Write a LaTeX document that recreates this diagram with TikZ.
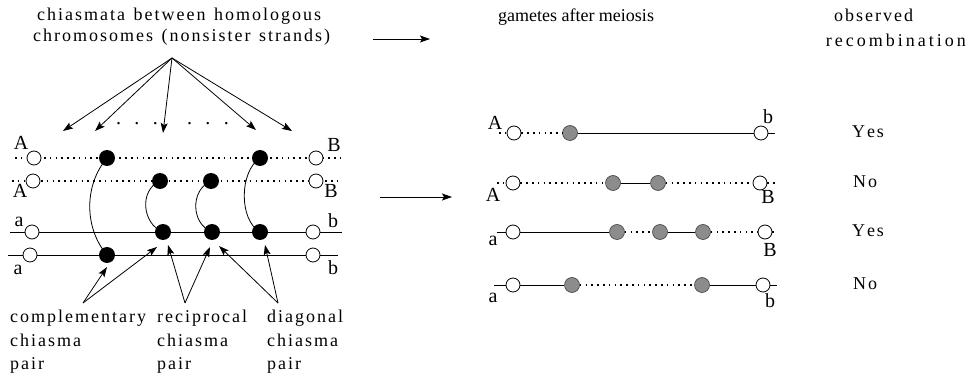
\documentclass[tikz,border=0pt]{standalone}
\usepackage{fontspec}
\setmainfont{Liberation Serif}
\usetikzlibrary{arrows.meta}
% letter-spaced text: a small kern after every character
\ExplSyntaxOn
\dim_new:N \l_spc_kern_dim
\NewDocumentCommand \spaced { O{2pt} m }
  {
    \dim_set:Nn \l_spc_kern_dim {#1}
    \str_map_inline:nn {#2} { ##1 \kern \l_spc_kern_dim }
    \kern -\l_spc_kern_dim
  }
\ExplSyntaxOff
\begin{document}
\begin{tikzpicture}[x=1pt,y=-1pt,
  open/.style={circle,draw,fill=white,minimum size=14pt,inner sep=0pt,line width=0.8pt},
  chi/.style={circle,fill=black,minimum size=16pt,inner sep=0pt},
  gam/.style={circle,draw=black!75,fill=black!45,minimum size=15pt,inner sep=0pt,line width=0.6pt},
  dotl/.style={line width=1.2pt,dash pattern=on 1.6pt off 4.2pt},
  soll/.style={line width=0.9pt},
  arr/.style={-{Stealth[length=10pt,width=7pt,inset=2pt]},line width=0.8pt},
  lbl/.style={font=\fontsize{20}{22}\selectfont,inner sep=0pt},
  txt/.style={font=\fontsize{18}{22}\selectfont,inner sep=0pt,anchor=base west},
  ctxt/.style={font=\fontsize{18}{22}\selectfont,inner sep=0pt,anchor=base},
]
\useasboundingbox (0,0) rectangle (967,382);

% ---------- headings ----------
\node[txt] (head1) at (37,21) {\spaced{chiasmata between homologous}};
\node[txt] (head2) at (33,42) {\spaced{chromosomes (nonsister strands)}};
\node[ctxt] (gam) at (576,22) {gametes after meiosis};
\node[txt] (obs) at (834,22) {\spaced{observed}};
\node[txt,anchor=base east] (rec) at (966,47) {\spaced[3pt]{recombination}};

% ---------- chromosome ends (left) ----------
\coordinate (l1s) at (15,158);  \coordinate (l1e) at (343,158);
\coordinate (l2s) at (12,181);  \coordinate (l2e) at (340,181);
\coordinate (l3s) at (10,232);  \coordinate (l3e) at (342,232);
\coordinate (l4s) at (8,255);   \coordinate (l4e) at (338,255);

% strands
\draw[dotl] (l1s) -- (l1e);
\draw[dotl] (l2s) -- (l2e);
\draw[soll] (l3s) -- (l3e);
\draw[soll] (l4s) -- (l4e);

% open markers
\node[open] (o1l) at (34,158) {};  \node[open] (o1r) at (316,158) {};
\node[open] (o2l) at (33,181) {};  \node[open] (o2r) at (316,181) {};
\node[open] (o3l) at (32,232) {};  \node[open] (o3r) at (313,232) {};
\node[open] (o4l) at (30,255) {};  \node[open] (o4r) at (313,255) {};

% chiasma points
\node[chi] (c1a) at (107,158) {};
\node[chi] (c1b) at (260,158) {};
\node[chi] (c2a) at (160,181) {};
\node[chi] (c2b) at (211,181) {};
\node[chi] (c3a) at (163,232) {};
\node[chi] (c3b) at (212,232) {};
\node[chi] (c3c) at (260,232) {};
\node[chi] (c4a) at (107,255) {};

% chiasma links
\draw[line width=0.8pt] (c1a.center) .. controls (84,185) and (84,228) .. (c4a.center);
\draw[line width=0.8pt] (c2a.center) .. controls (139,190) and (142,224) .. (c3a.center);
\draw[line width=0.8pt] (c2b.center) .. controls (190,190) and (191,224) .. (c3b.center);
\draw[line width=0.8pt] (c1b.center) .. controls (239,172) and (239,220) .. (c3c.center);

% allele labels (left)
\node[lbl] (A1) at (21,143) {A};
\node[lbl] (A2) at (20,191) {A};
\node[lbl] (B1) at (334,145) {B};
\node[lbl] (B2) at (331,191) {B};
\node[lbl] (a3) at (19,222) {a};
\node[lbl] (a4) at (18,270) {a};
\node[lbl] (b3) at (333,221) {b};
\node[lbl] (b4) at (333,268) {b};

% fan of arrows from the heading
\coordinate (apex) at (172,58);
\coordinate (t1) at (63,131);
\coordinate (t2) at (95,131);
\coordinate (t3) at (163,133);
\coordinate (t4) at (256,130);
\coordinate (t5) at (292,131);
\foreach \t in {t1,t2,t3,t4,t5} \draw[arr] (apex) -- (\t);
\node[lbl] (dots1) at (137,124) {.\,\,\,\,.\,\,\,\,.};
\node[lbl] (dots2) at (208,124) {.\,\,\,\,.\,\,\,\,.};

% pair labels and their arrows
\node[txt] (comp1) at (10,323) {\spaced{complementary}};
\node[txt] (comp2) at (10,346) {\spaced{chiasma}};
\node[txt] (comp3) at (10,369) {\spaced{pair}};
\node[txt] (reci1) at (157,323) {\spaced{reciprocal}};
\node[txt] (reci2) at (157,346) {\spaced{chiasma}};
\node[txt] (reci3) at (157,369) {\spaced{pair}};
\node[txt] (diag1) at (267,323) {\spaced{diagonal}};
\node[txt] (diag2) at (267,346) {\spaced{chiasma}};
\node[txt] (diag3) at (267,369) {\spaced{pair}};

\coordinate (p1) at (83,303);
\coordinate (p2) at (185,303);
\coordinate (p3) at (278,303);
\coordinate (q1) at (107,267);
\coordinate (q2) at (157,247);
\coordinate (q3) at (168,245);
\coordinate (q4) at (210,247);
\coordinate (q5) at (219,246);
\coordinate (q6) at (265,245);
\draw[arr] (p1) -- (q1); \draw[arr] (p1) -- (q2);
\draw[arr] (p2) -- (q3); \draw[arr] (p2) -- (q4);
\draw[arr] (p3) -- (q5); \draw[arr] (p3) -- (q6);

% process arrows
\coordinate (h1s) at (373,39); \coordinate (h1e) at (430,39);
\coordinate (h2s) at (380,197); \coordinate (h2e) at (452,197);
\draw[arr] (h1s) -- (h1e);
\draw[arr] (h2s) -- (h2e);

% ---------- gametes ----------
% gamete 1
\node[open] (g1l) at (514,133) {};
\node[gam]  (g1x) at (570,133) {};
\node[open] (g1r) at (761,133) {};
\coordinate (g1s) at (499,133); \coordinate (g1e) at (775,133);
\draw[dotl] (g1s) -- (g1l); \draw[dotl] (g1l) -- (g1x);
\draw[soll] (g1x) -- (g1r); \draw[soll] (g1r) -- (g1e);
\node[lbl] (gA1) at (495,123) {A};
\node[lbl] (gb1) at (768,117) {b};

% gamete 2
\node[open] (g2l) at (513,183) {};
\node[gam]  (g2x) at (613,183) {};
\node[gam]  (g2y) at (658,183) {};
\node[open] (g2r) at (760,183) {};
\coordinate (g2s) at (497,183); \coordinate (g2e) at (775,183);
\draw[dotl] (g2s) -- (g2l); \draw[dotl] (g2l) -- (g2x);
\draw[soll] (g2x) -- (g2y);
\draw[dotl] (g2y) -- (g2r); \draw[dotl] (g2r) -- (g2e);
\node[lbl] (gA2) at (493,195) {A};
\node[lbl] (gB2) at (768,197) {B};

% gamete 3
\node[open] (g3l) at (513,232) {};
\node[gam]  (g3x) at (617,232) {};
\node[gam]  (g3y) at (660,232) {};
\node[gam]  (g3z) at (703,232) {};
\node[open] (g3r) at (765,232) {};
\coordinate (g3s) at (497,232); \coordinate (g3e) at (777,232);
\draw[soll] (g3s) -- (g3l); \draw[soll] (g3l) -- (g3x);
\draw[dotl] (g3x) -- (g3y);
\draw[soll] (g3y) -- (g3z);
\draw[dotl] (g3z) -- (g3r); \draw[dotl] (g3r) -- (g3e);
\node[lbl] (ga3) at (493,241) {a};
\node[lbl] (gB3) at (770,250) {B};

% gamete 4
\node[open] (g4l) at (513,285) {};
\node[gam]  (g4x) at (572,285) {};
\node[gam]  (g4y) at (702,285) {};
\node[open] (g4r) at (763,285) {};
\coordinate (g4s) at (494,285); \coordinate (g4e) at (777,285);
\draw[soll] (g4s) -- (g4l); \draw[soll] (g4l) -- (g4x);
\draw[dotl] (g4x) -- (g4y);
\draw[soll] (g4y) -- (g4r); \draw[soll] (g4r) -- (g4e);
\node[lbl] (ga4) at (493,298) {a};
\node[lbl] (gb4) at (770,301) {b};

% recombination outcome
\node[ctxt] (r1) at (868,138) {\spaced{Yes}};
\node[ctxt] (r2) at (865,188) {\spaced{No}};
\node[ctxt] (r3) at (868,237) {\spaced{Yes}};
\node[ctxt] (r4) at (865,290) {\spaced{No}};
\end{tikzpicture}
\end{document}
